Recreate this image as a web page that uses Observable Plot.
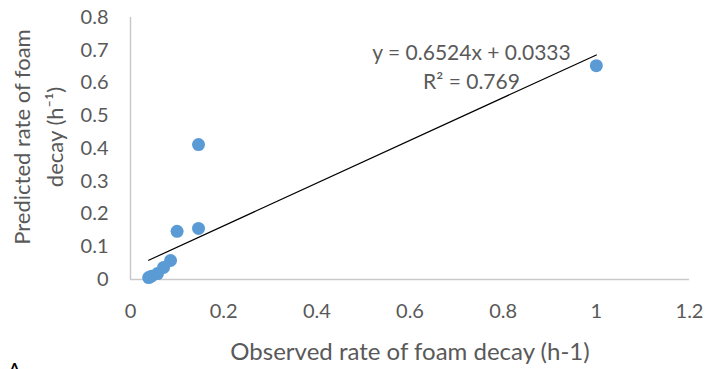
<!DOCTYPE html>
<html>
<head>
<meta charset="utf-8">
<script src="https://cdn.jsdelivr.net/npm/d3@7"></script>
<script src="https://cdn.jsdelivr.net/npm/@observablehq/plot@0.6"></script>
<style>
  html, body { margin: 0; padding: 0; background: #fff; }
  #chart { width: 708px; height: 369px; overflow: hidden; }
</style>
</head>
<body>
<div id="chart"></div>
<script>
const observed  = [0.039, 0.045, 0.058, 0.071, 0.086, 0.100, 0.146, 0.146, 1.000];
const predicted = [0.006, 0.010, 0.018, 0.037, 0.058, 0.147, 0.156, 0.412, 0.653];
const slope = 0.6524;
const intercept = 0.0333;
const rSquared = 0.769;
const xTicks = [0, 0.2, 0.4, 0.6, 0.8, 1, 1.2];
const yTicks = [0, 0.1, 0.2, 0.3, 0.4, 0.5, 0.6, 0.7, 0.8];

const points = observed.map((x, i) => ({x, y: predicted[i]}));
const xMin = d3.min(observed), xMax = d3.max(observed);
const trend = [xMin, xMax].map(x => ({x, y: slope * x + intercept}));

const font = "Lato, 'Open Sans', sans-serif";
const textColor = "#595959";
const axisColor = "#c9c9c9";

const chart = Plot.plot({
  width: 708,
  height: 369,
  marginLeft: 130,
  marginRight: 19,
  marginTop: 17,
  marginBottom: 90,
  style: {fontFamily: font, color: textColor, background: "#fff", overflow: "visible"},
  x: {domain: [0, 1.2]},
  y: {domain: [0, 0.8]},
  marks: [
    Plot.ruleX([0], {stroke: axisColor, strokeWidth: 1.5}),
    Plot.ruleY([0], {stroke: axisColor, strokeWidth: 1.5}),
    Plot.axisX({ticks: xTicks, tickFormat: d => String(d), tickSize: 0, tickPadding: 24, fontSize: 20, fill: textColor, label: null}),
    Plot.axisY({ticks: yTicks, tickFormat: d => String(d), tickSize: 0, tickPadding: 22, fontSize: 20, fill: textColor, label: null}),
    Plot.line(trend, {x: "x", y: "y", stroke: "#000", strokeWidth: 1.2}),
    Plot.dot(points, {x: "x", y: "y", r: 6.5, fill: "#5B9BD5", stroke: "none"}),
    Plot.text([`y = ${slope}x + ${intercept}`], {frameAnchor: "top-left", textAnchor: "middle", lineAnchor: "middle", dx: 341, dy: 36, text: d => d, fontSize: 21, fill: textColor}),
    Plot.text([`R² = ${rSquared}`], {frameAnchor: "top-left", textAnchor: "middle", lineAnchor: "middle", dx: 341, dy: 65, text: d => d, fontSize: 21, fill: textColor}),
    Plot.text(["Observed rate of foam decay (h-1)"], {frameAnchor: "bottom", textAnchor: "middle", lineAnchor: "middle", dy: 73, text: d => d, fontSize: 24, fill: textColor}),
    Plot.text(["Predicted rate of foam"], {frameAnchor: "left", textAnchor: "middle", lineAnchor: "middle", dx: -108, dy: -11.5, rotate: -90, text: d => d, fontSize: 22, fill: textColor}),
    Plot.text(["decay (h⁻¹)"], {frameAnchor: "left", textAnchor: "middle", lineAnchor: "middle", dx: -75, dy: -11.5, rotate: -90, text: d => d, fontSize: 22, fill: textColor}),
    Plot.text(["A"], {frameAnchor: "bottom-left", textAnchor: "middle", lineAnchor: "bottom", dx: -116, dy: 97, text: d => d, fontSize: 20, fill: "#000"})
  ]
});
document.getElementById("chart").appendChild(chart);
</script>
</body>
</html>
